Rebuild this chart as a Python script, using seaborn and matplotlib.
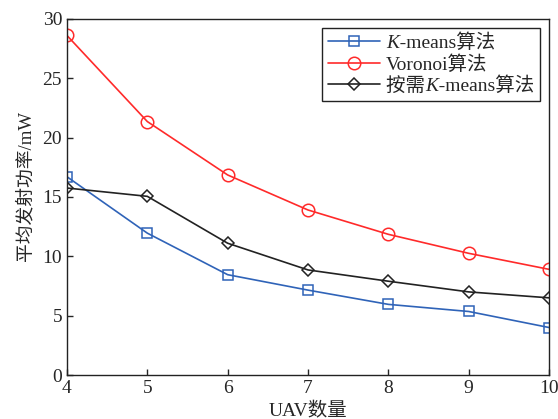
import pandas as pd
import seaborn as sns
import matplotlib
matplotlib.use('Agg')
import matplotlib.pyplot as plt

# Data
uav_counts = [4, 5, 6, 7, 8, 9, 10]
kmeans_power = [16.7, 11.95, 8.45, 7.15, 5.95, 5.35, 4.0]
voronoi_power = [28.6, 21.35, 16.85, 13.9, 11.85, 10.25, 8.9]
ondemand_power = [15.75, 15.05, 11.1, 8.85, 7.9, 7.0, 6.5]

# the italic K is drawn separately, so the label keeps a gap for it
k_gap = '\u2002\u2009'
series_names = [k_gap + '-means算法', 'Voronoi算法', '按需' + k_gap + '-means算法']
k_prefix = ['', None, '按需']  # text before the italic K (None = no K)
series_values = [kmeans_power, voronoi_power, ondemand_power]
series_colors = ['#2f63b8', '#ff2a2a', '#222222']
series_markers = ['s', 'o', 'D']
series_msizes = [7.5, 9, 6]

sns.set_style('ticks')
fams = ['Liberation Serif', 'Noto Sans CJK SC']
plt.rcParams['font.family'] = fams
plt.rcParams['xtick.direction'] = 'in'
plt.rcParams['ytick.direction'] = 'in'

fig = plt.figure(figsize=(5.58, 4.19), dpi=100)
ax = fig.add_axes([0.120, 0.105, 0.864, 0.850])

for name, vals, col, mk, ms in zip(series_names, series_values, series_colors,
                                   series_markers, series_msizes):
    df = pd.DataFrame({'UAV': uav_counts, 'power': vals})
    sns.lineplot(data=df, x='UAV', y='power', ax=ax, color=col, marker=mk,
                 markersize=ms, markerfacecolor='none', markeredgecolor=col,
                 markeredgewidth=1.1, linewidth=1.2, label=name)

ax.set_xlim(4, 10)
ax.set_ylim(0, 30)
ax.set_xticks(uav_counts)
ax.set_yticks([0, 5, 10, 15, 20, 25, 30])
ax.tick_params(labelsize=14, length=4, width=1, top=False, right=False)
for s in ax.spines.values():
    s.set_linewidth(1.0)
    s.set_color('#222222')
    s.set_visible(True)

ax.set_xlabel('UAV数量', fontsize=14, labelpad=4)
ax.set_ylabel('平均发射功率/mW', fontsize=13.5)
ax.yaxis.set_label_coords(-0.068, 0.53)

leg = ax.legend(loc='upper right', fontsize=14, frameon=True, fancybox=False,
                edgecolor='#222222', framealpha=1, handlelength=2.7,
                borderpad=0.3, labelspacing=0.15, handletextpad=0.3,
                borderaxespad=0.45)
leg.get_frame().set_linewidth(1.0)

# put the italic K into the gaps left in the legend labels
fig.canvas.draw()
renderer = fig.canvas.get_renderer()
for txt, pre in zip(leg.get_texts(), k_prefix):
    if pre is None:
        continue
    x0, y0 = txt.get_transform().transform(txt.get_position())
    bb = txt.get_window_extent(renderer)
    x0 = bb.x0
    if pre:
        probe = fig.text(0, 0, pre, fontsize=14, family=fams)
        x0 += probe.get_window_extent(renderer).width
        probe.remove()
    fig.text(x0, y0, 'K', fontsize=14, family=fams, style='italic',
             ha='left', va='baseline', transform=None, zorder=10)

fig.savefig('out.png', dpi=100)
